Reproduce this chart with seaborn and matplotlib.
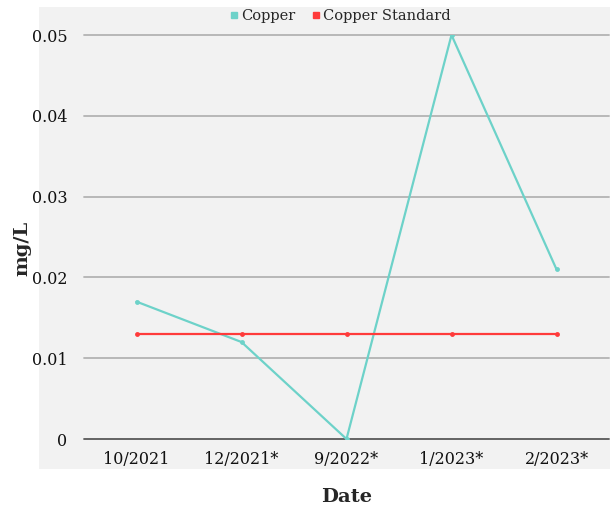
import matplotlib
matplotlib.use("Agg")
import matplotlib.pyplot as plt
from matplotlib.patches import Rectangle
import seaborn as sns
import pandas as pd

dates = ["10/2021", "12/2021*", "9/2022*", "1/2023*", "2/2023*"]
copper = [0.017, 0.012, 0.0, 0.050, 0.021]
copper_standard = [0.013, 0.013, 0.013, 0.013, 0.013]
y_ticks = [0, 0.01, 0.02, 0.03, 0.04, 0.05]
y_tick_labels = ["0", "0.01", "0.02", "0.03", "0.04", "0.05"]

df = pd.DataFrame({
    "Date": dates * 2,
    "value": copper + copper_standard,
    "series": ["Copper"] * len(dates) + ["Copper Standard"] * len(dates),
})
df["x"] = list(range(len(dates))) * 2

sns.set_style("white")
plt.rcParams["font.family"] = ["DejaVu Serif"]

W, H = 610, 508
fig = plt.figure(figsize=(W / 100, H / 100), dpi=100)
fig.patch.set_facecolor("white")

# light grey chart panel behind the plot and tick labels
panel = Rectangle((39 / W, 1 - 469 / H), (610 - 39) / W, (469 - 7) / H,
                  transform=fig.transFigure, facecolor="#f2f2f2",
                  edgecolor="none", zorder=-10)
fig.patches.append(panel)

ax = fig.add_axes([84 / W, 1 - 439 / H, (609 - 84) / W, (439 - 35) / H])
ax.set_zorder(1)
ax.set_facecolor("none")
ax.patch.set_alpha(0)

palette = {"Copper": "#6dd2c9", "Copper Standard": "#ff3b3b"}
sns.lineplot(data=df, x="x", y="value", hue="series", palette=palette,
             marker="o", markersize=3.5, markeredgewidth=0, linewidth=1.6,
             ax=ax, legend=False, zorder=3)

ax.set_xlim(-0.5, len(dates) - 0.5)
ax.set_ylim(0, 0.05)
ax.set_xticks(range(len(dates)))
ax.set_xticklabels(dates, fontsize=11.5, color="#111111")
ax.set_yticks(y_ticks)
ax.set_yticklabels(y_tick_labels, fontsize=11.5, color="#111111")
ax.tick_params(axis="both", length=0)
ax.tick_params(axis="x", pad=9)
ax.tick_params(axis="y", pad=12)

for y in y_ticks[1:]:
    ax.axhline(y, color="#b3b3b3", linewidth=1.3, zorder=0.5, clip_on=False)
ax.axhline(0, color="#595959", linewidth=1.3, zorder=0.5, clip_on=False)

for s in ax.spines.values():
    s.set_visible(False)

ax.set_xlabel("Date", fontsize=14, fontweight="bold", labelpad=14)
ax.set_ylabel("mg/L", fontsize=14, fontweight="bold")
ax.yaxis.set_label_coords((31 - 84) / 525, (439 - 248) / 404)

# legend above the plot, centred over the plotting area
handles = [plt.Line2D([], [], linestyle="none", marker="s", markersize=4,
                      color=palette[k]) for k in palette]
fig.legend(handles, list(palette.keys()), loc="center",
           bbox_to_anchor=(340 / W, 1 - 16 / H), ncol=2, frameon=False,
           fontsize=10.5, handletextpad=0.2, columnspacing=1.1,
           handlelength=0.6)

fig.savefig("out.png", dpi=100)
